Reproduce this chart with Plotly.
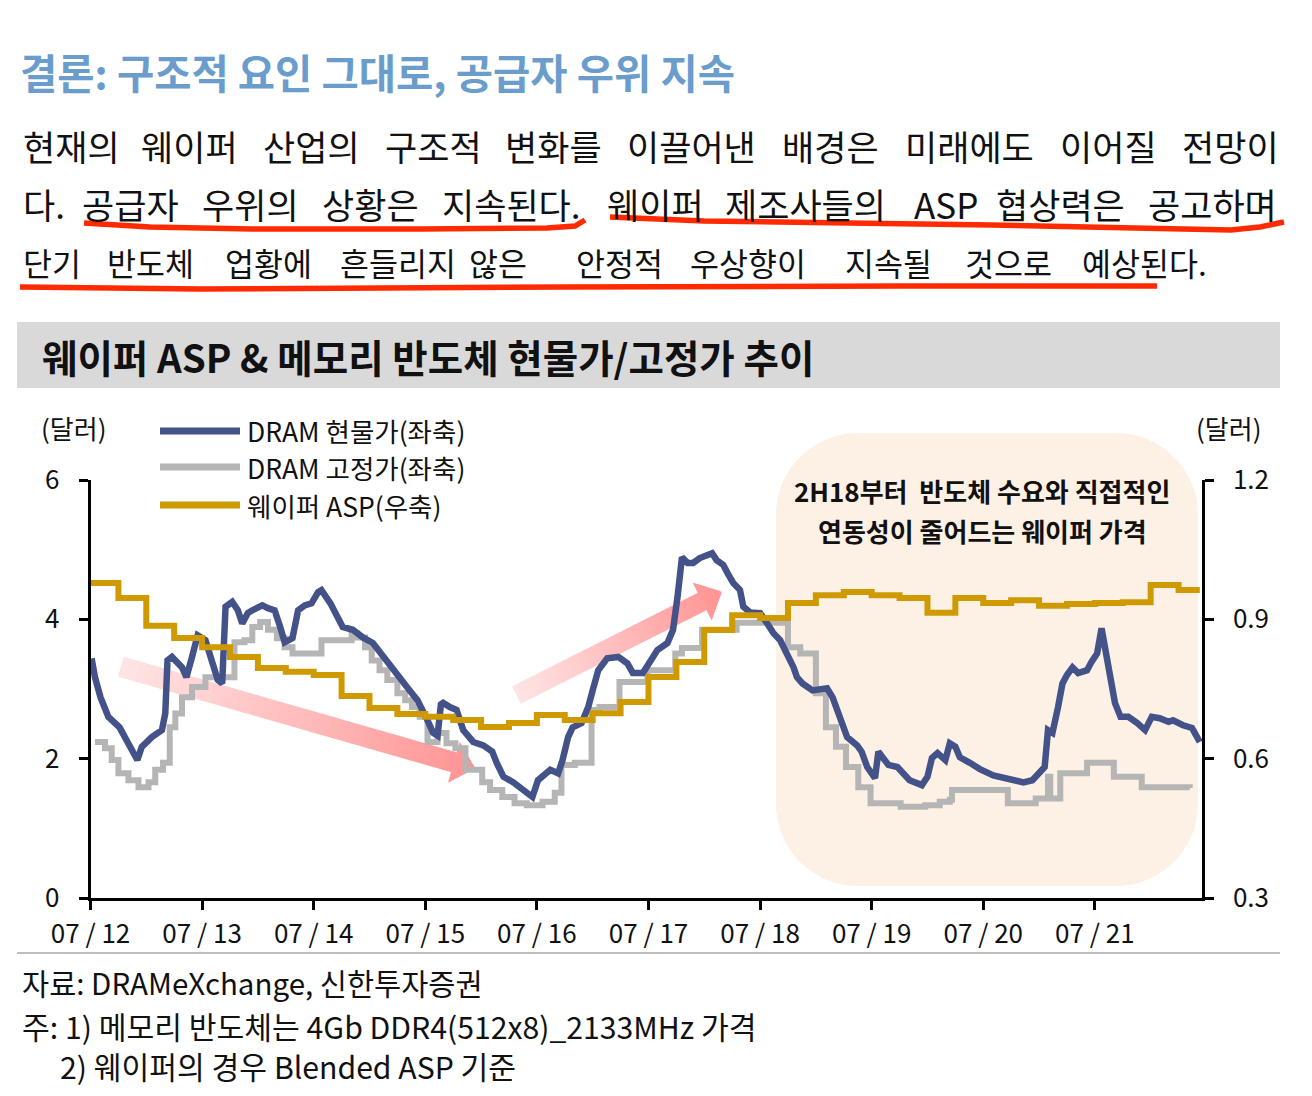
import math
import plotly.graph_objects as go

# figure is drawn inside the page's 8px body margin
OFF = 8
W, H = 1296, 1080
FONT = "Noto Sans CJK KR"

# ---------------- data (decimal year, value) ----------------
spot_t = [2012.51, 2012.54, 2012.59, 2012.66, 2012.76, 2012.83, 2012.92, 2012.96, 2013.05, 2013.14,
          2013.17, 2013.19, 2013.23, 2013.32, 2013.36, 2013.41, 2013.46, 2013.53, 2013.59, 2013.64,
          2013.68, 2013.71, 2013.77, 2013.82, 2013.86, 2013.91, 2013.95, 2014.04, 2014.09, 2014.15,
          2014.20, 2014.24, 2014.31, 2014.36, 2014.42, 2014.48, 2014.54, 2014.57, 2014.65, 2014.71,
          2014.76, 2014.85, 2014.94, 2015.03, 2015.09, 2015.18, 2015.27, 2015.36, 2015.43, 2015.48,
          2015.52, 2015.57, 2015.61, 2015.64, 2015.66, 2015.72, 2015.78, 2015.84, 2015.93, 2016.02,
          2016.10, 2016.14, 2016.20, 2016.29, 2016.38, 2016.46, 2016.51, 2016.57, 2016.62, 2016.69,
          2016.73, 2016.78, 2016.82, 2016.90, 2016.96, 2017.00, 2017.05, 2017.13, 2017.23, 2017.31,
          2017.36, 2017.45, 2017.51, 2017.58, 2017.67, 2017.72, 2017.76, 2017.80, 2017.85, 2017.90,
          2017.96, 2018.07, 2018.11, 2018.17, 2018.21, 2018.26, 2018.32, 2018.35, 2018.41, 2018.50,
          2018.56, 2018.62, 2018.68, 2018.74, 2018.80, 2018.83, 2018.88, 2018.97, 2019.10, 2019.15,
          2019.22, 2019.28, 2019.37, 2019.41, 2019.46, 2019.53, 2019.56, 2019.60, 2019.65, 2019.73,
          2019.78, 2019.84, 2019.95, 2020.00, 2020.04, 2020.09, 2020.16, 2020.20, 2020.25, 2020.29,
          2020.38, 2020.47, 2020.59, 2020.71, 2020.86, 2020.94, 2021.01, 2021.05, 2021.08, 2021.12,
          2021.17, 2021.21, 2021.25, 2021.30, 2021.35, 2021.43, 2021.47, 2021.52, 2021.56, 2021.59,
          2021.64, 2021.68, 2021.73, 2021.80, 2021.88, 2021.95, 2022.01, 2022.08, 2022.16, 2022.20,
          2022.29, 2022.37, 2022.44]
spot_v = [3.44, 3.17, 2.88, 2.60, 2.45, 2.24, 1.98, 2.17, 2.31, 2.41,
          2.65, 3.41, 3.46, 3.31, 3.17, 3.46, 3.77, 3.70, 3.41, 3.13,
          3.08, 4.18, 4.25, 4.13, 3.94, 4.09, 4.13, 4.20, 4.16, 4.13,
          3.89, 3.67, 3.73, 4.13, 4.20, 4.23, 4.39, 4.42, 4.23, 4.03,
          3.89, 3.85, 3.74, 3.66, 3.53, 3.37, 3.17, 2.98, 2.84, 2.70,
          2.55, 2.37, 2.33, 2.78, 2.80, 2.74, 2.70, 2.41, 2.24, 2.19,
          2.10, 1.94, 1.74, 1.66, 1.55, 1.45, 1.69, 1.79, 1.84, 1.79,
          1.98, 2.31, 2.45, 2.51, 2.74, 2.98, 3.27, 3.44, 3.46, 3.37,
          3.23, 3.23, 3.37, 3.56, 3.66, 3.85, 4.32, 4.89, 4.81, 4.81,
          4.88, 4.95, 4.85, 4.78, 4.66, 4.52, 4.42, 4.18, 4.10, 4.09,
          3.95, 3.80, 3.70, 3.51, 3.31, 3.17, 3.08, 2.98, 3.01, 2.88,
          2.60, 2.31, 2.19, 2.10, 1.88, 1.72, 2.10, 2.02, 1.91, 1.88,
          1.79, 1.69, 1.62, 1.74, 2.01, 2.08, 1.98, 2.22, 2.17, 2.02,
          1.94, 1.85, 1.76, 1.72, 1.66, 1.69, 1.81, 1.88, 2.41, 2.37,
          2.74, 3.08, 3.20, 3.31, 3.23, 3.27, 3.39, 3.51, 3.87, 3.60,
          3.13, 2.80, 2.60, 2.60, 2.51, 2.41, 2.60, 2.58, 2.53, 2.55,
          2.48, 2.44, 2.24]

fixed_t = [2012.54, 2012.63, 2012.69, 2012.75, 2012.84, 2012.93, 2013.02, 2013.08, 2013.15, 2013.21,
           2013.26, 2013.32, 2013.41, 2013.53, 2013.79, 2013.88, 2013.95, 2014.02, 2014.09, 2014.17,
           2014.24, 2014.31, 2014.57, 2014.84, 2014.89, 2014.96, 2015.02, 2015.09, 2015.16, 2015.25,
           2015.32, 2015.38, 2015.45, 2015.52, 2015.61, 2015.69, 2015.77, 2015.86, 2016.01, 2016.08,
           2016.19, 2016.30, 2016.41, 2016.55, 2016.66, 2016.72, 2016.84, 2016.99, 2017.06, 2017.24,
           2017.49, 2017.74, 2017.80, 2017.98, 2018.29, 2018.75, 2018.86, 2019.00, 2019.09, 2019.18,
           2019.27, 2019.38, 2019.49, 2019.76, 2019.98, 2020.11, 2020.20, 2020.22, 2020.72, 2020.97,
           2021.08, 2021.10, 2021.19, 2021.43, 2021.67, 2021.92, 2022.35]
fixed_v = [2.24, 2.15, 1.98, 1.79, 1.69, 1.59, 1.66, 1.84, 1.94, 2.45,
           2.65, 2.88, 3.03, 3.17, 3.67, 3.70, 3.89, 3.96, 3.85, 3.73,
           3.60, 3.51, 3.70, 3.80, 3.74, 3.60, 3.41, 3.27, 3.13, 2.94,
           2.84, 2.74, 2.60, 2.24, 2.37, 2.22, 2.15, 1.84, 1.66, 1.55,
           1.45, 1.36, 1.33, 1.38, 1.51, 1.91, 1.94, 2.70, 2.74, 3.10,
           3.27, 3.51, 3.59, 3.85, 3.95, 3.60, 3.51, 2.94, 2.45, 2.17,
           1.88, 1.59, 1.36, 1.31, 1.33, 1.38, 1.41, 1.55, 1.36, 1.43,
           1.74, 1.43, 1.79, 1.94, 1.74, 1.59, 1.58]

asp_t = [2012.5, 2012.75, 2013.0, 2013.25, 2013.5, 2013.75, 2014.0, 2014.25, 2014.5, 2014.75,
         2015.0, 2015.25, 2015.5, 2015.75, 2016.0, 2016.25, 2016.5, 2016.75, 2017.0, 2017.25,
         2017.5, 2017.75, 2018.0, 2018.25, 2018.5, 2018.75, 2019.0, 2019.25, 2019.5, 2019.75,
         2020.0, 2020.25, 2020.5, 2020.75, 2021.0, 2021.25, 2021.5, 2021.75, 2022.0, 2022.25, 2022.44]
asp_v = [0.978, 0.946, 0.886, 0.860, 0.840, 0.819, 0.795, 0.787, 0.780, 0.735,
         0.709, 0.696, 0.690, 0.683, 0.668, 0.677, 0.694, 0.683, 0.698, 0.722,
         0.776, 0.808, 0.877, 0.909, 0.903, 0.935, 0.952, 0.959, 0.952, 0.946,
         0.914, 0.946, 0.935, 0.941, 0.929, 0.933, 0.935, 0.937, 0.974, 0.963, 0.963]

x_tickvals = [2012.5, 2013.5, 2014.5, 2015.5, 2016.5, 2017.5, 2018.5, 2019.5, 2020.5, 2021.5]
x_ticktext = ["07 / 12", "07 / 13", "07 / 14", "07 / 15", "07 / 16", "07 / 17", "07 / 18", "07 / 19",
              "07 / 20", "07 / 21"]
y1_ticks = [0, 2, 4, 6]
y2_ticks = [0.3, 0.6, 0.9, 1.2]

names = ["DRAM 현물가(좌축)", "DRAM 고정가(좌축)", "웨이퍼 ASP(우축)"]
colors = ["#435389", "#B5B5B5", "#CE9A00"]

# ---------------- helpers (page pixel -> paper) ----------------
def X(p):
    return (p - OFF) / W

def Y(p):
    return 1 - (p - OFF) / H

def path_from(points, close=False):
    s = "M " + " L ".join(f"{X(a):.5f},{Y(b):.5f}" for a, b in points)
    return s + (" Z" if close else "")

fig = go.Figure()

fig.add_trace(go.Scatter(x=fixed_t, y=fixed_v, mode="lines", line=dict(color=colors[1], width=6, shape="hv"),
                         name=names[1], showlegend=False))
fig.add_trace(go.Scatter(x=asp_t, y=asp_v, mode="lines", line=dict(color=colors[2], width=6, shape="hv"),
                         name=names[2], yaxis="y2", showlegend=False))
fig.add_trace(go.Scatter(x=spot_t, y=spot_v, mode="lines", line=dict(color=colors[0], width=6.5),
                         name=names[0], showlegend=False))

shapes = []
annotations = []

# shaded rounded box
x0, x1, y0, y1, r = 776, 1198, 433, 886, 82
k = r * 0.5523
def P(a, b):
    return f"{X(a):.5f},{Y(b):.5f}"
box = (f"M {P(x0+r,y0)} L {P(x1-r,y0)} C {P(x1-r+k,y0)} {P(x1,y0+r-k)} {P(x1,y0+r)} "
       f"L {P(x1,y1-r)} C {P(x1,y1-r+k)} {P(x1-r+k,y1)} {P(x1-r,y1)} "
       f"L {P(x0+r,y1)} C {P(x0+r-k,y1)} {P(x0,y1-r+k)} {P(x0,y1-r)} "
       f"L {P(x0,y0+r)} C {P(x0,y0+r-k)} {P(x0+r-k,y0)} {P(x0+r,y0)} Z")
shapes.append(dict(type="path", path=box, xref="paper", yref="paper", fillcolor="#FDF0E5",
                   line=dict(width=0), layer="below"))

# gradient arrows
def arrow(tail, tip, bw, hl, hw, c0, c1, n=40, nh=10):
    tx, ty = tail
    dx, dy = tip[0] - tx, tip[1] - ty
    L = math.hypot(dx, dy)
    ux, uy = dx / L, dy / L
    nx, ny = -uy, ux
    Lb = L - hl
    def col(f):
        c = [round(c0[j] + (c1[j] - c0[j]) * f) for j in range(3)]
        return f"rgb({c[0]},{c[1]},{c[2]})"
    def pt(s, w):
        return (tx + ux * s + nx * w, ty + uy * s + ny * w)
    out = []
    for i in range(n):
        s0 = Lb * i / n
        s1 = min(Lb * (i + 1) / n + 0.8, Lb + 0.5)
        pts = [pt(s0, bw), pt(s1, bw), pt(s1, -bw), pt(s0, -bw)]
        out.append(dict(type="path", path=path_from(pts, True), xref="paper", yref="paper",
                        fillcolor=col(s0 / L), line=dict(width=0), layer="below"))
    for i in range(nh):
        s0 = Lb + hl * i / nh
        s1 = Lb + hl * (i + 1) / nh
        w0 = hw * (L - s0) / hl
        w1 = hw * (L - s1) / hl
        s1e = min(s1 + 0.6, L)
        pts = [pt(s0, w0), pt(s1e, w1), pt(s1e, -w1), pt(s0, -w0)]
        out.append(dict(type="path", path=path_from(pts, True), xref="paper", yref="paper",
                        fillcolor=col(s0 / L), line=dict(width=0), layer="below"))
    return out

shapes += arrow((120.8, 666.7), (475, 768.3), 10.3, 22, 21, (255, 228, 228), (255, 146, 146))
shapes += arrow((516.5, 695), (721.7, 591.7), 9.7, 22, 21, (255, 228, 228), (255, 146, 146))

# title banner and rules
shapes.append(dict(type="rect", xref="paper", yref="paper", x0=X(17), x1=X(1280), y0=Y(388), y1=Y(322),
                   fillcolor="#D9D9D9", line=dict(width=0), layer="below"))
shapes.append(dict(type="line", xref="paper", yref="paper", x0=X(17), x1=X(1280), y0=Y(953), y1=Y(953),
                   line=dict(color="#BDBDBD", width=2)))

# red hand-drawn underlines
red = "#FF2A00"
for pts in [
    [(84, 223), (150, 227), (252, 229), (421, 229), (547, 228), (575, 226), (585, 220)],
    [(610, 217), (704, 221), (848, 223), (992, 225), (1135, 228), (1231, 230), (1260, 227), (1284, 222)],
    [(20, 287), (200, 289), (560, 287), (900, 286), (1157, 286)],
]:
    shapes.append(dict(type="path", path=path_from(pts), xref="paper", yref="paper",
                       line=dict(color=red, width=5.5)))

# legend (custom)
leg_y = [431, 467, 505]
for nm, c, yy in zip(names, colors, leg_y):
    shapes.append(dict(type="line", xref="paper", yref="paper", x0=X(160), x1=X(240), y0=Y(yy), y1=Y(yy),
                       line=dict(color=c, width=7)))
    annotations.append(dict(x=X(245), y=Y(yy), xref="paper", yref="paper", text=nm, showarrow=False,
                            xanchor="left", yanchor="middle", font=dict(family=FONT, size=26.5, color="#111")))

def txt(x, y, s, size, color="#111", anchor="left", bold=False):
    annotations.append(dict(x=X(x), y=Y(y), xref="paper", yref="paper",
                            text=f"<b>{s}</b>" if bold else s, showarrow=False,
                            xanchor=anchor, yanchor="middle", font=dict(family=FONT, size=size, color=color)))

# heading
txt(18, 72, "결론: 구조적 요인 그대로, 공급자 우위 지속", 40.5, color="#6A9DCB", bold=True)

# body paragraph (justified, word by word)
line1 = [(21, "현재의"), (139, "웨이퍼"), (261, "산업의"), (383, "구조적"), (503, "변화를"), (625, "이끌어낸"),
         (780, "배경은"), (903, "미래에도"), (1058, "이어질"), (1180, "전망이")]
line2 = [(21, "다."), (80, "공급자"), (200, "우위의"), (320, "상황은"), (440, "지속된다."), (605, "웨이퍼"),
         (723, "제조사들의"), (912, "ASP"), (994, "협상력은"), (1146, "공고하며")]
line3 = [(21, "단기"), (105, "반도체"), (223, "업황에"), (338, "흔들리지"), (467, "않은"), (574, "안정적"),
         (688, "우상향이"), (843, "지속될"), (963, "것으로"), (1080, "예상된다.")]
for yy, words, fs in [(145, line1, 35), (203, line2, 35), (262, line3, 31.5)]:
    for x, w in words:
        txt(x, yy, w, fs)

# chart heading
txt(40, 356, "웨이퍼 ASP & 메모리 반도체 현물가/고정가 추이", 38.5, bold=True)

# unit labels
txt(73, 428, "(달러)", 26, anchor="center")
txt(1228, 428, "(달러)", 26, anchor="center")

# box annotation
txt(982, 490, "2H18부터  반도체 수요와 직접적인", 26, anchor="center", bold=True)
txt(982, 530, "연동성이 줄어드는 웨이퍼 가격", 26, anchor="center", bold=True)

# footer
txt(20, 982, "자료: DRAMeXchange, 신한투자증권", 29.5)
txt(20, 1026, "주: 1) 메모리 반도체는 4Gb DDR4(512x8)_2133MHz 가격", 30.2)
txt(58, 1066, "2) 웨이퍼의 경우 Blended ASP 기준", 30.2)

axis_font = dict(family=FONT, size=26, color="#111")
fig.update_layout(
    width=W, height=H, autosize=False,
    margin=dict(l=0, r=0, t=0, b=0, pad=0),
    paper_bgcolor="white", plot_bgcolor="rgba(0,0,0,0)",
    showlegend=False,
    xaxis=dict(domain=[X(90.5), X(1202)], range=[2012.5, 2022.46], tickvals=x_tickvals, ticktext=x_ticktext,
               showgrid=False, zeroline=False, showline=True, linecolor="black", linewidth=2.5,
               ticks="outside", ticklen=9, tickwidth=2.5, tickcolor="black", tickfont=axis_font,
               ticklabelstandoff=2, automargin=False),
    yaxis=dict(domain=[Y(898), Y(480)], range=[0, 6], tickvals=y1_ticks, showgrid=False, zeroline=False,
               showline=True, linecolor="black", linewidth=2.5, ticks="outside", ticklen=9, tickwidth=2.5,
               tickcolor="black", tickfont=axis_font, ticklabelstandoff=14, automargin=False),
    yaxis2=dict(overlaying="y", side="right", range=[0.3, 1.2], tickvals=y2_ticks, tickformat=".1f",
                showgrid=False, zeroline=False, showline=True, linecolor="black", linewidth=2.5,
                ticks="outside", ticklen=9, tickwidth=2.5, tickcolor="black", tickfont=axis_font,
                ticklabelstandoff=14, anchor="x", automargin=False),
    shapes=shapes,
    annotations=annotations,
)

fig.write_html("out.html")
